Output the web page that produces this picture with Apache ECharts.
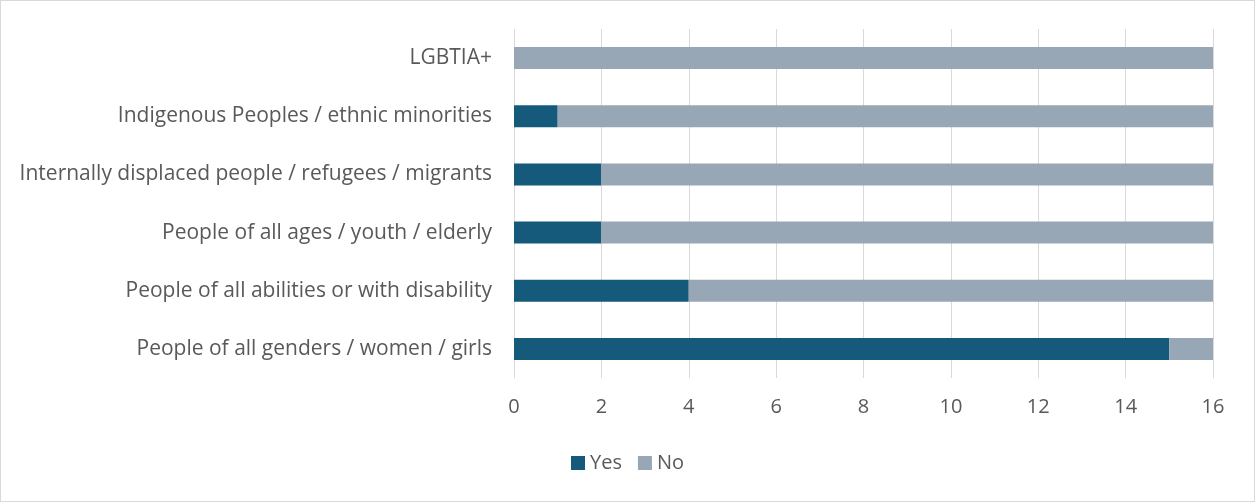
<!DOCTYPE html>
<html>
<head>
<meta charset="utf-8">
<script src="https://cdn.jsdelivr.net/npm/echarts@6/dist/echarts.min.js"></script>
<style>
  html, body { margin: 0; padding: 0; background: #fff; }
  #chart { width: 1255px; height: 502px; box-sizing: border-box; border: 1px solid #d9d9d9; }
</style>
</head>
<body>
<div id="chart"></div>
<script>
// Groups, listed top to bottom
const categories = [
  'LGBTIA+',
  'Indigenous Peoples / ethnic minorities',
  'Internally displaced people / refugees / migrants',
  'People of all ages / youth / elderly',
  'People of all abilities or with disability',
  'People of all genders / women / girls'
];
const yesValues = [0, 1, 2, 2, 4, 15];
const noValues = [16, 15, 14, 14, 12, 1];
const xTicks = [0, 2, 4, 6, 8, 10, 12, 14, 16];

const font = '"Open Sans", "Liberation Sans", sans-serif';
const chart = echarts.init(document.getElementById('chart'), null, { renderer: 'canvas' });

chart.setOption({
  animation: false,
  textStyle: { fontFamily: font },
  grid: { left: 513, right: 41, top: 28, bottom: 123, containLabel: false },
  legend: {
    data: ['Yes', 'No'],
    top: 447,
    left: 'center',
    itemWidth: 14,
    itemHeight: 14,
    itemGap: 16,
    icon: 'rect',
    textStyle: { color: '#595959', fontSize: 20, fontFamily: font }
  },
  xAxis: {
    type: 'value',
    min: xTicks[0],
    max: xTicks[xTicks.length - 1],
    interval: 2,
    axisLine: { show: false },
    axisTick: { show: false },
    splitLine: { show: true, lineStyle: { color: '#d9d9d9', width: 1 } },
    axisLabel: { color: '#595959', fontSize: 20, margin: 19, fontFamily: font }
  },
  yAxis: {
    type: 'category',
    inverse: true,
    data: categories,
    axisLine: { show: false },
    axisTick: { show: false },
    axisLabel: { color: '#595959', fontSize: 21, margin: 22, fontFamily: font }
  },
  series: [
    {
      name: 'Yes',
      type: 'bar',
      stack: 'total',
      barWidth: 22,
      itemStyle: { color: '#155a7a' },
      data: yesValues
    },
    {
      name: 'No',
      type: 'bar',
      stack: 'total',
      barWidth: 22,
      itemStyle: { color: '#98a7b5' },
      data: noValues
    }
  ]
});
</script>
</body>
</html>
